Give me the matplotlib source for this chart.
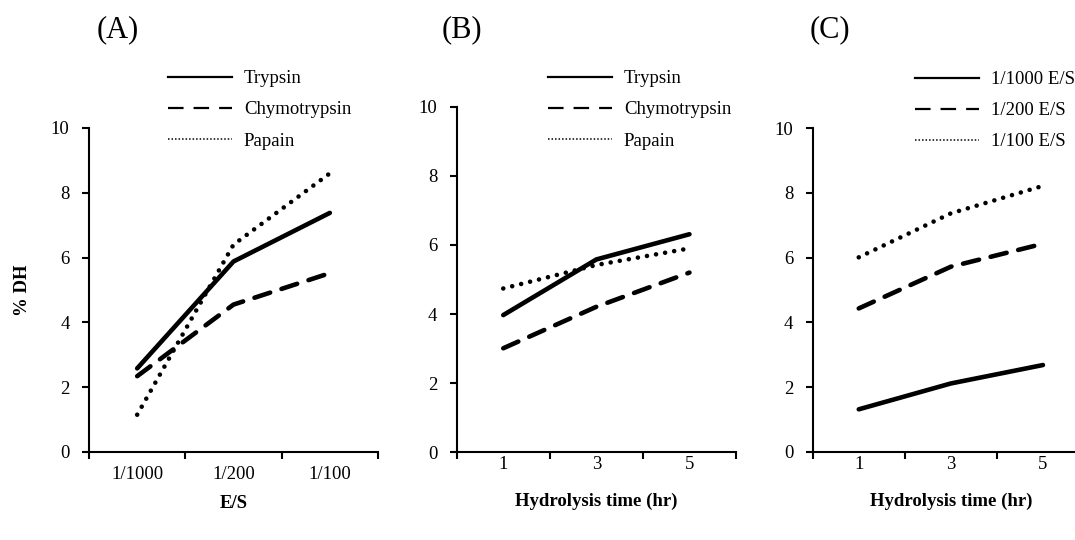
import matplotlib
matplotlib.use("Agg")
import matplotlib.pyplot as plt
from matplotlib.lines import Line2D

plt.rcParams['font.family'] = ['Liberation Serif', 'DejaVu Serif']

# ---- data ----
es_categories = ["1/1000", "1/200", "1/100"]
time_categories = ["1", "3", "5"]

enzymes = ["Trypsin", "Chymotrypsin", "Papain"]
a_trypsin = [2.58, 5.88, 7.38]
a_chymotrypsin = [2.34, 4.55, 5.52]
a_papain = [1.15, 6.4, 8.6]

b_trypsin = [3.97, 5.58, 6.31]
b_chymotrypsin = [3.01, 4.21, 5.2]
b_papain = [4.74, 5.42, 5.9]

ratio_labels = ["1/1000 E/S", "1/200 E/S", "1/100 E/S"]
c_1000 = [1.31, 2.11, 2.68]
c_200 = [4.43, 5.72, 6.43]
c_100 = [6.01, 7.37, 8.22]

panel_titles = ["(A)", "(B)", "(C)"]
xlabels = ["E/S", "Hydrolysis time (hr)", "Hydrolysis time (hr)"]
yticks = [0, 2, 4, 6, 8, 10]

# ---- styles ----
W, H = 1075, 540
fig = plt.figure(figsize=(W / 100, H / 100), dpi=100)

LW = 3.3
styles = [
    dict(linestyle='-', linewidth=LW, solid_capstyle='round', solid_joinstyle='round'),
    dict(linestyle=(0, (3.6, 2.6)), linewidth=LW, dash_capstyle='round', solid_joinstyle='round'),
    dict(linestyle=(0, (0.01, 2.0)), linewidth=LW, dash_capstyle='round'),
]
leg_styles = [
    dict(linestyle='-', linewidth=1.6),
    dict(linestyle=(0, (7.0, 4.5)), linewidth=1.6),
    dict(linestyle=(0, (1.0, 1.3)), linewidth=1.1),
]

def px(x0, y0, x1, y1):
    return [x0 / W, 1 - y1 / H, (x1 - x0) / W, (y1 - y0) / H]

axes_pos = [px(89, 128, 378, 452), px(456.7, 106.7, 736, 452.3), px(812.7, 128.3, 1089, 451.7)]
title_pos = [(118, 30), (462, 30), (830, 30)]
legend_anchor = [(168, 70), (548, 70), (915, 71)]
xtick_pad = [10, 3, 3]
xlabel_pad = [9, 14, 14]

series_sets = [
    (es_categories, [a_trypsin, a_chymotrypsin, a_papain], enzymes),
    (time_categories, [b_trypsin, b_chymotrypsin, b_papain], enzymes),
    (time_categories, [c_1000, c_200, c_100], ratio_labels),
]

FS = 13.5
LFS = 13.5
for i, (cats, series, labels) in enumerate(series_sets):
    ax = fig.add_axes(axes_pos[i])
    xs = [k + 0.5 for k in range(len(cats))]
    for vals, st in zip(series, styles):
        ax.plot(xs, vals, color='black', **st)
    ax.set_xlim(0, len(cats))
    ax.set_ylim(0, 10)
    for sp in ['top', 'right']:
        ax.spines[sp].set_visible(False)
    for sp in ['left', 'bottom']:
        ax.spines[sp].set_linewidth(1.5)
    ax.set_yticks(yticks)
    ax.set_yticklabels([str(v) for v in yticks], fontsize=FS)
    ax.set_xticks(range(len(cats) + 1))
    ax.set_xticklabels([])
    ax.set_xticks(xs, minor=True)
    ax.set_xticklabels(cats, minor=True, fontsize=FS)
    ax.tick_params(axis='x', which='major', direction='out', length=5, width=1.5)
    ax.tick_params(axis='x', which='minor', length=0, pad=xtick_pad[i])
    ax.tick_params(axis='y', direction='out', length=5, width=1.5, pad=9)
    ax.set_xlabel(xlabels[i], fontsize=FS, fontweight='bold', labelpad=xlabel_pad[i])
    if i == 0:
        ax.set_ylabel("% DH", fontsize=FS, fontweight='bold', labelpad=14)
    tx, ty = title_pos[i]
    fig.text(tx / W, 1 - ty / H, panel_titles[i], fontsize=22, ha='center', va='center')
    handles = [Line2D([], [], color='black', **ls) for ls in leg_styles]
    lx, ly = legend_anchor[i]
    ax.legend(handles, labels, loc='upper left', bbox_to_anchor=(lx / W, 1 - ly / H),
              bbox_transform=fig.transFigure, frameon=False, fontsize=LFS,
              handlelength=3.4, handletextpad=0.65, labelspacing=0.75, borderpad=0,
              borderaxespad=0)

fig.savefig("out.png", dpi=100)
